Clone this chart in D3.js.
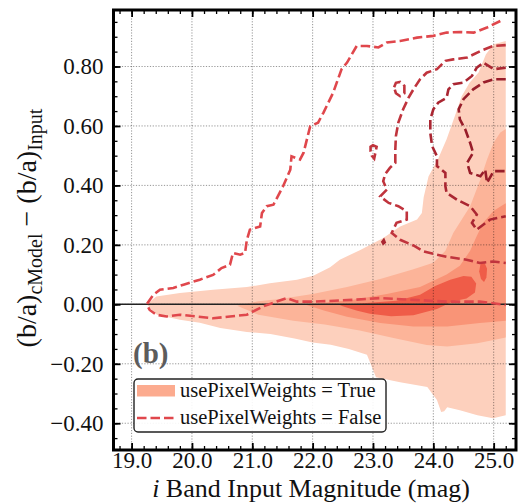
<!DOCTYPE html>
<html>
<head>
<meta charset="utf-8">
<script src="https://cdn.jsdelivr.net/npm/d3@7"></script>
<style>
  body { margin: 0; background: #fff; }
  text { font-family: "Liberation Serif", "DejaVu Serif", serif; }
</style>
</head>
<body>
<script>
var width = 518, height = 503;

// tick values
var xTicks = [19, 20, 21, 22, 23, 24, 25];
var yTicks = [-0.4, -0.2, 0, 0.2, 0.4, 0.6, 0.8];

// usePixelWeights = True : filled density levels, outer -> inner  [mag, delta b/a]
var fillLevel1 = [[19.25,0.0],[19.41,0.026],[19.80,0.038],[20.35,0.049],[20.91,0.058],[21.29,0.071],[21.74,0.083],[22.01,0.096],[22.29,0.125],[22.45,0.150],[22.79,0.183],[23.17,0.223],[23.45,0.262],[23.73,0.285],[23.81,0.307],[23.84,0.36],[23.92,0.43],[24.08,0.49],[24.22,0.555],[24.36,0.635],[24.47,0.70],[24.6,0.745],[24.75,0.78],[24.87,0.84],[25.0,0.875],[25.2,0.886],[25.2,-0.373],[24.99,-0.383],[24.73,-0.373],[24.44,-0.356],[24.23,-0.346],[24.18,-0.36],[24.13,-0.362],[24.06,-0.322],[23.90,-0.278],[23.45,-0.262],[23.05,-0.245],[22.98,-0.21],[22.9,-0.17],[22.6,-0.15],[22.3,-0.136],[22.0,-0.128],[21.7,-0.115],[21.3,-0.10],[20.91,-0.093],[20.47,-0.080],[20.13,-0.062],[19.80,-0.052],[19.42,-0.035]];
var fillLevel2 = [[20.75,-0.005],[21.1,0.010],[21.46,0.018],[22.0,0.035],[22.57,0.058],[23.12,0.085],[23.67,0.118],[24.0,0.14],[24.2,0.18],[24.33,0.24],[24.61,0.33],[24.78,0.42],[24.89,0.487],[25.0,0.544],[25.11,0.578],[25.2,0.59],[25.2,-0.112],[25.0,-0.12],[24.73,-0.131],[24.23,-0.142],[23.89,-0.137],[23.34,-0.113],[22.78,-0.088],[22.2,-0.068],[21.68,-0.055],[21.1,-0.035]];
var fillLevel3 = [[21.9,-0.002],[22.3,0.008],[22.67,0.015],[23.23,0.035],[23.78,0.058],[24.22,0.1],[24.44,0.13],[24.61,0.18],[24.72,0.23],[24.83,0.275],[25.0,0.315],[25.2,0.34],[25.2,-0.055],[24.77,-0.063],[24.23,-0.075],[23.67,-0.075],[23.12,-0.063],[22.57,-0.042],[22.2,-0.022]];
var fillLevel4 = [[22.45,-0.003],[22.83,0.004],[23.39,0.012],[23.78,0.032],[24.03,0.062],[24.28,0.083],[24.5,0.095],[24.63,0.093],[24.71,0.07],[24.69,0.04],[24.55,0.02],[24.33,0.01],[24.06,-0.016],[23.67,-0.037],[23.3,-0.04],[22.95,-0.032],[22.74,-0.022],[22.55,-0.01]];
var fillLevel4b = [[24.78,0.135],[24.85,0.14],[24.89,0.12],[24.88,0.09],[24.84,0.075],[24.79,0.085],[24.76,0.11]];

// usePixelWeights = False : dashed density contours, outer -> inner
var dashLevel1 = [[25.11,0.953],[24.89,0.931],[24.67,0.914],[24.44,0.916],[24.22,0.914],[24.00,0.903],[23.73,0.897],[23.45,0.886],[23.23,0.881],[23.09,0.864],[22.90,0.869],[22.73,0.869],[22.57,0.813],[22.48,0.791],[22.34,0.712],[22.18,0.645],[22.09,0.611],[21.96,0.599],[21.85,0.510],[21.79,0.487],[21.65,0.498],[21.63,0.453],[21.51,0.397],[21.35,0.335],[21.24,0.33],[21.16,0.307],[21.13,0.262],[20.96,0.251],[20.91,0.217],[20.88,0.173],[20.80,0.167],[20.68,0.173],[20.63,0.133],[20.49,0.122],[20.35,0.099],[20.13,0.083],[19.86,0.066],[19.69,0.055],[19.47,0.049],[19.36,0.032],[19.25,0.0],[19.30,-0.019],[19.41,-0.035],[19.58,-0.041],[19.80,-0.035],[20.08,-0.041],[20.35,-0.047],[20.63,-0.041],[20.91,-0.035],[21.18,-0.007],[21.40,0.009],[21.57,0.021],[21.74,0.009],[22.01,0.009],[22.67,0.015],[23.12,0.021],[23.67,0.015],[24.22,0.009],[24.77,0.009],[25.2,-0.002]];
var dashLevel2 = [[25.2,0.872],[24.99,0.869],[24.78,0.852],[24.56,0.830],[24.33,0.824],[24.20,0.819],[24.06,0.791],[23.89,0.779],[23.78,0.757],[23.67,0.723],[23.59,0.695],[23.50,0.656],[23.42,0.611],[23.38,0.566],[23.37,0.521],[23.37,0.476],[23.28,0.459],[23.20,0.437],[23.17,0.414],[23.23,0.386],[23.12,0.363],[23.26,0.341],[23.42,0.330],[23.56,0.313],[23.56,0.285],[23.39,0.274],[23.31,0.240],[23.45,0.217],[23.67,0.198],[23.84,0.178],[24.06,0.167],[24.22,0.16],[24.55,0.15],[24.77,0.139],[24.99,0.144],[25.2,0.139]];
var dashLoopA = [[23.35,0.73],[23.38,0.745],[23.45,0.748],[23.52,0.735],[23.52,0.71],[23.45,0.70],[23.38,0.71]];
var dashLoopB = [[22.96,0.53],[23.0,0.535],[23.06,0.53],[23.04,0.51],[23.02,0.49],[22.98,0.50],[22.96,0.515]];
var dashDot = [[23.15,0.21],[23.18,0.218],[23.2,0.208],[23.17,0.203]];
var dashLevel3 = [[25.2,0.796],[25.0,0.791],[24.83,0.813],[24.72,0.796],[24.64,0.768],[24.50,0.746],[24.33,0.740],[24.25,0.723],[24.22,0.695],[24.08,0.678],[24.0,0.656],[23.95,0.622],[23.95,0.577],[23.98,0.532],[24.06,0.498],[24.06,0.465],[24.20,0.442],[24.20,0.397],[24.22,0.375],[24.39,0.352],[24.61,0.330],[24.72,0.302],[24.64,0.274],[24.72,0.251],[24.94,0.285],[25.2,0.296]];
var dashLevel4 = [[25.2,0.757],[25.0,0.757],[24.83,0.746],[24.66,0.723],[24.50,0.690],[24.42,0.656],[24.44,0.622],[24.53,0.588],[24.61,0.543],[24.66,0.510],[24.56,0.476],[24.61,0.442],[24.78,0.431],[24.86,0.453],[24.89,0.409],[25.0,0.448],[25.2,0.448]];

var svg = d3.select("body").append("svg")
    .attr("width", width)
    .attr("height", height);

var x = d3.scaleLinear().domain([18.7, 25.37]).range([113.5, 516]);
var y = d3.scaleLinear().domain([-0.49, 0.99]).range([450, 10]);

svg.append("clipPath").attr("id", "plot")
  .append("rect")
    .attr("x", x.range()[0]).attr("y", y.range()[1])
    .attr("width", x.range()[1] - x.range()[0])
    .attr("height", y.range()[0] - y.range()[1]);

var line = d3.line().x(d => x(d[0])).y(d => y(d[1]));
var g = svg.append("g").attr("clip-path", "url(#plot)");

// filled contours
var fills = [
  [fillLevel1, "#fdd0bd"],
  [fillLevel2, "#fcb499"],
  [fillLevel3, "#f99477"],
  [fillLevel4, "#ef5c48"],
  [fillLevel4b, "#ef5c48"]
];
fills.forEach(function(f) {
  g.append("path").attr("d", line(f[0]) + "Z").attr("fill", f[1]);
});

// grid
g.selectAll(".gx").data(xTicks).enter().append("line")
    .attr("x1", d => x(d)).attr("x2", d => x(d))
    .attr("y1", y.range()[1]).attr("y2", y.range()[0]);
g.selectAll(".gy").data(yTicks).enter().append("line")
    .attr("y1", d => y(d)).attr("y2", d => y(d))
    .attr("x1", x.range()[0]).attr("x2", x.range()[1]);
g.selectAll("line")
    .attr("stroke", "#8a8a8a")
    .attr("stroke-width", 0.9)
    .attr("stroke-dasharray", "1.2,1.6")
    .style("mix-blend-mode", "multiply");

// zero line
g.append("line")
    .attr("x1", x.range()[0]).attr("x2", x.range()[1])
    .attr("y1", y(0)).attr("y2", y(0))
    .attr("stroke", "#222").attr("stroke-width", 1.6);

// dashed contours
var dashes = [
  [dashLevel1, "#e0474c", false],
  [dashLevel2, "#c0343d", false],
  [dashLoopA, "#c0343d", true],
  [dashLoopB, "#c0343d", true],
  [dashLevel3, "#aa2632", false],
  [dashLevel4, "#981d2a", false]
];
dashes.forEach(function(c) {
  g.append("path")
      .attr("d", line(c[0]) + (c[2] ? "Z" : ""))
      .attr("fill", "none")
      .attr("stroke", c[1])
      .attr("stroke-width", 2.6)
      .attr("stroke-dasharray", "9.5,4");
});
g.append("path").attr("d", line(dashDot) + "Z")
    .attr("fill", "#aa2632").attr("stroke", "#aa2632").attr("stroke-width", 2);

// axes: inward ticks on all sides
function tickAxis(axis, scale, vals, size, fmt) {
  return axis(scale).tickValues(vals).tickSize(-size).tickFormat(fmt || "");
}
var xMinor = d3.range(18.8, 25.3, 0.2).map(v => +v.toFixed(1));
var yMinor = d3.range(-0.45, 0.96, 0.05).map(v => +v.toFixed(2));

var axes = svg.append("g");
axes.append("g").attr("transform", "translate(0,450)")
    .call(tickAxis(d3.axisBottom, x, xMinor, 4));
axes.append("g").attr("transform", "translate(0,10)")
    .call(tickAxis(d3.axisTop, x, xMinor, 4));
axes.append("g").attr("transform", "translate(113.5,0)")
    .call(tickAxis(d3.axisLeft, y, yMinor, 4));
axes.append("g").attr("transform", "translate(516,0)")
    .call(tickAxis(d3.axisRight, y, yMinor, 4));
axes.selectAll(".tick line").attr("stroke-width", 1.3);

var major = svg.append("g");
major.append("g").attr("transform", "translate(0,450)")
    .call(tickAxis(d3.axisBottom, x, xTicks, 7, d3.format(".1f")).tickPadding(2));
major.append("g").attr("transform", "translate(0,10)")
    .call(tickAxis(d3.axisTop, x, xTicks, 7));
major.append("g").attr("transform", "translate(113.5,0)")
    .call(tickAxis(d3.axisLeft, y, yTicks, 7, d3.format(".2f")).tickPadding(10));
major.append("g").attr("transform", "translate(516,0)")
    .call(tickAxis(d3.axisRight, y, yTicks, 7));
major.selectAll(".tick line").attr("stroke-width", 1.8);
major.selectAll(".tick text")
    .attr("fill", "#111")
    .style("font-family", '"Liberation Serif", serif')
    .style("font-size", "23px");
svg.selectAll(".domain").remove();

// frame
svg.append("rect")
    .attr("x", x.range()[0]).attr("y", y.range()[1])
    .attr("width", x.range()[1] - x.range()[0])
    .attr("height", y.range()[0] - y.range()[1])
    .attr("fill", "none").attr("stroke", "#000").attr("stroke-width", 3);

// axis titles
var xl = svg.append("text")
    .attr("x", 311).attr("y", 497)
    .attr("text-anchor", "middle")
    .style("font-size", "26px").attr("fill", "#111");
xl.append("tspan").style("font-style", "italic").text("i");
xl.append("tspan").text(" Band Input Magnitude (mag)");

var yl = svg.append("text")
    .attr("transform", "translate(36,228) rotate(-90)")
    .attr("text-anchor", "middle")
    .style("font-size", "28px").attr("fill", "#111");
yl.append("tspan").text("(b/a)");
yl.append("tspan").attr("dy", 6).style("font-size", "20px").text("cModel");
yl.append("tspan").attr("dy", -6).text(" \u2212 (b/a)");
yl.append("tspan").attr("dy", 6).style("font-size", "20px").text("Input");

// panel tag
svg.append("text")
    .attr("x", 133).attr("y", 363)
    .style("font-size", "29px").style("font-weight", "bold")
    .attr("fill", "#5c5c5c")
    .text("(b)");

// legend
var lg = svg.append("g");
lg.append("rect")
    .attr("x", 134).attr("y", 379).attr("width", 252).attr("height", 53)
    .attr("rx", 4).attr("fill", "#fff").attr("fill-opacity", 0.9)
    .attr("stroke", "#222").attr("stroke-width", 1.4);
lg.append("rect")
    .attr("x", 137).attr("y", 385).attr("width", 38).attr("height", 11.5)
    .attr("fill", "#fcab8f");
lg.append("line")
    .attr("x1", 137).attr("x2", 175).attr("y1", 418).attr("y2", 418)
    .attr("stroke", "#e0474c").attr("stroke-width", 2.6)
    .attr("stroke-dasharray", "9.5,4");
lg.append("text").attr("x", 180).attr("y", 396.5)
    .style("font-size", "20.5px").attr("fill", "#111")
    .text("usePixelWeights = True");
lg.append("text").attr("x", 180).attr("y", 424)
    .style("font-size", "20.5px").attr("fill", "#111")
    .text("usePixelWeights = False");
</script>
</body>
</html>
